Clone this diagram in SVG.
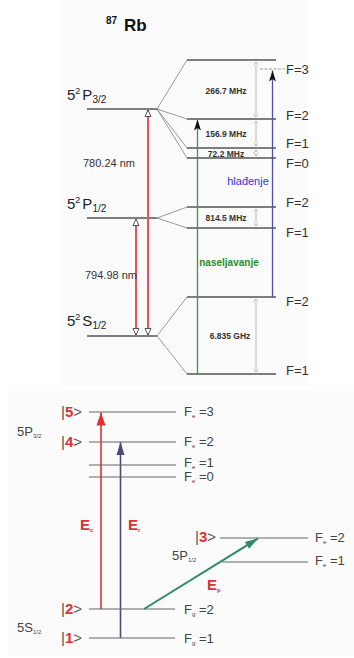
<svg xmlns="http://www.w3.org/2000/svg" width="354" height="658" viewBox="0 0 354 658">
<defs>
<style>
text{font-family:"Liberation Sans",Arial,sans-serif}
.lvl{stroke:#555;stroke-width:1.5;fill:none}
.fan{stroke:#9a9a9a;stroke-width:1;fill:none}
.gap{stroke:#a8a8a8;stroke-width:0.8;fill:none;marker-start:url(#gs);marker-end:url(#ge)}
.small{font-size:8.5px;fill:#333;font-weight:bold;text-anchor:middle}
.flab{font-size:13px;fill:#333}
.big{font-size:15px;fill:#222}
.blvl{stroke:#666;stroke-width:1.2;fill:none}
.blab{font-size:13px;fill:#444}
.ket{font-size:15px;fill:#555}
.num{fill:#e03030;font-weight:bold}
.red{stroke:#e8505a;stroke-width:2;fill:none}
</style>
<marker id="gs" markerUnits="userSpaceOnUse" markerWidth="6" markerHeight="6" refX="3" refY="0.5" orient="auto" viewBox="0 -1 6 6">
<path d="M0.5,4 L3,0.5 L5.5,4 Z" transform="rotate(-90 3 0.5)" fill="#fff" stroke="#999" stroke-width="0.7"/>
</marker>
<marker id="ge" markerUnits="userSpaceOnUse" markerWidth="6" markerHeight="6" refX="3" refY="0.5" orient="auto" viewBox="0 -1 6 6">
<path d="M0.5,4 L3,0.5 L5.5,4 Z" transform="rotate(90 3 0.5)" fill="#fff" stroke="#999" stroke-width="0.7"/>
</marker>
<marker id="hollow" markerUnits="userSpaceOnUse" markerWidth="10" markerHeight="10" refX="8" refY="4" orient="auto-start-reverse" viewBox="0 0 10 8">
<path d="M1.5,1 L8,4 L1.5,7 Z" fill="#fff" stroke="#444" stroke-width="0.9"/>
</marker>
<marker id="blk" markerUnits="userSpaceOnUse" markerWidth="12" markerHeight="8" refX="11" refY="4" orient="auto" viewBox="0 0 12 8">
<path d="M0,0.5 L11,4 L0,7.5 L2.5,4 Z" fill="#111"/>
</marker>
<marker id="hr" markerUnits="userSpaceOnUse" markerWidth="14" markerHeight="10" refX="13" refY="5" orient="auto" viewBox="0 0 14 10">
<path d="M0,0.5 L13,5 L0,9.5 Z" fill="#e03030"/>
</marker>
<marker id="hb" markerUnits="userSpaceOnUse" markerWidth="14" markerHeight="10" refX="13" refY="5" orient="auto" viewBox="0 0 14 10">
<path d="M0,1 L13,5 L0,9 Z" fill="#4a4a7a"/>
</marker>
<marker id="hg" markerUnits="userSpaceOnUse" markerWidth="14" markerHeight="10" refX="13" refY="5" orient="auto" viewBox="0 0 14 10">
<path d="M0,1 L13,5 L0,9 Z" fill="#2e8b6e"/>
</marker>
</defs>

<rect x="0" y="0" width="354" height="658" fill="#fff"/>
<rect x="63" y="0" width="245" height="387" fill="#fbfbfb"/>
<rect x="8" y="391" width="346" height="265" fill="#fbfbfb"/>

<g id="title">
<text x="106" y="24" font-size="10" font-weight="bold" fill="#111">87</text>
<text x="124" y="31" font-size="17" font-weight="bold" fill="#111">Rb</text>
</g>

<g id="P32">
<line class="lvl" x1="87" y1="109" x2="157" y2="109"/>
<text x="67" y="100" class="big">5<tspan font-size="9" dy="-6">2</tspan><tspan dx="2" dy="6">P</tspan><tspan font-size="10" dy="3">3/2</tspan></text>
</g>
<g id="P12">
<line class="lvl" x1="87" y1="218" x2="157" y2="218"/>
<text x="67" y="209" class="big">5<tspan font-size="9" dy="-6">2</tspan><tspan dx="2" dy="6">P</tspan><tspan font-size="10" dy="3">1/2</tspan></text>
</g>
<g id="S12">
<line class="lvl" x1="87" y1="336" x2="157" y2="336"/>
<text x="67" y="326" class="big">5<tspan font-size="9" dy="-6">2</tspan><tspan dx="2" dy="6">S</tspan><tspan font-size="10" dy="3">1/2</tspan></text>
</g>

<g id="fans">
<path class="fan" d="M157,109 L187,60 M157,109 L187,119 M157,109 L187,148 M157,109 L187,158"/>
<path class="fan" d="M157,218 L187,207 M157,218 L187,228"/>
<path class="fan" d="M157,336 L187,297 M157,336 L187,374"/>
</g>

<g id="hfP32">
<line class="lvl" x1="187" y1="60" x2="276" y2="60"/>
<line class="lvl" x1="187" y1="119" x2="276" y2="119"/>
<line class="lvl" x1="187" y1="148" x2="276" y2="148"/>
<line class="lvl" x1="187" y1="158" x2="276" y2="158"/>
<line x1="260" y1="69" x2="285" y2="69" stroke="#888" stroke-width="0.8" stroke-dasharray="3,1.5"/>
<text class="flab" x="286" y="74">F=3</text>
<text class="flab" x="286" y="120">F=2</text>
<text class="flab" x="286" y="148">F=1</text>
<text class="flab" x="286" y="168">F=0</text>
</g>
<g id="hfP12">
<line class="lvl" x1="187" y1="207" x2="276" y2="207"/>
<line class="lvl" x1="187" y1="228" x2="276" y2="228"/>
<text class="flab" x="286" y="207">F=2</text>
<text class="flab" x="286" y="237">F=1</text>
</g>
<g id="hfS12">
<line class="lvl" x1="187" y1="297" x2="276" y2="297"/>
<line class="lvl" x1="187" y1="374" x2="276" y2="374"/>
<text class="flab" x="286" y="306">F=2</text>
<text class="flab" x="286" y="375">F=1</text>
</g>

<g id="connectors">
<line class="gap" x1="256" y1="62" x2="256" y2="117"/>
<line class="gap" x1="256" y1="121" x2="256" y2="146"/>
<line class="gap" x1="256" y1="150" x2="256" y2="156"/>
<line class="gap" x1="256" y1="209" x2="256" y2="226"/>
<line class="gap" x1="256" y1="299" x2="256" y2="372"/>
<line class="red" x1="148" y1="335" x2="148" y2="110" marker-start="url(#hollow)" marker-end="url(#hollow)"/>
<line class="red" x1="136" y1="335" x2="136" y2="219" marker-start="url(#hollow)" marker-end="url(#hollow)"/>
<line x1="197.5" y1="374" x2="197.5" y2="119.5" stroke="#3a9a3a" stroke-width="1.3" marker-end="url(#blk)"/>
<line x1="272.5" y1="297" x2="272.5" y2="70.5" stroke="#5050a0" stroke-width="1.3" marker-end="url(#blk)"/>
<line x1="101" y1="609" x2="101" y2="412.5" stroke="#e03030" stroke-width="1.6" marker-end="url(#hr)"/>
<line x1="120.5" y1="638" x2="120.5" y2="442" stroke="#4a4a7a" stroke-width="1.6" marker-end="url(#hb)"/>
<line x1="144" y1="609" x2="258" y2="538.5" stroke="#2e8b6e" stroke-width="2" marker-end="url(#hg)"/>
</g>

<g id="toplabels">
<text class="small" x="226" y="94">266.7 MHz</text>
<text class="small" x="226" y="137">156.9 MHz</text>
<text class="small" x="226" y="156.5">72.2 MHz</text>
<text class="small" x="226" y="220.5">814.5 MHz</text>
<text class="small" x="230" y="339">6.835 GHz</text>
<text x="83" y="167" font-size="11" fill="#333">780.24 nm</text>
<text x="85" y="279" font-size="11" fill="#333">794.98 nm</text>
<text x="248" y="185" font-size="11" fill="#3030e0" text-anchor="middle">hlađenje</text>
<text x="229" y="266" font-size="10" font-weight="bold" fill="#2a8a2a" text-anchor="middle">naseljavanje</text>
</g>

<g id="k5">
<line class="blvl" x1="89" y1="412" x2="176" y2="412"/>
<text class="ket" x="61" y="417">|<tspan class="num">5</tspan>&gt;</text>
<text class="blab" x="184" y="416">F<tspan font-size="6" dy="2">e</tspan><tspan dy="-2"> =3</tspan></text>
</g>
<g id="k4">
<line class="blvl" x1="89" y1="442" x2="176" y2="442"/>
<text class="ket" x="61" y="447">|<tspan class="num">4</tspan>&gt;</text>
<text class="blab" x="184" y="446">F<tspan font-size="6" dy="2">e</tspan><tspan dy="-2"> =2</tspan></text>
</g>
<g id="fe1">
<line class="blvl" x1="89" y1="465" x2="176" y2="465"/>
<text class="blab" x="184" y="467">F<tspan font-size="6" dy="2">e</tspan><tspan dy="-2"> =1</tspan></text>
</g>
<g id="fe0">
<line class="blvl" x1="89" y1="477" x2="176" y2="477"/>
<text class="blab" x="184" y="481">F<tspan font-size="6" dy="2">e</tspan><tspan dy="-2"> =0</tspan></text>
</g>
<text x="17" y="436" font-size="13" fill="#444">5P<tspan font-size="6" dy="2">3/2</tspan></text>

<g id="k3">
<line class="blvl" x1="220" y1="538" x2="308" y2="538"/>
<text class="ket" x="195" y="542">|<tspan class="num">3</tspan>&gt;</text>
<text class="blab" x="315" y="542">F<tspan font-size="6" dy="2">e</tspan><tspan dy="-2"> =2</tspan></text>
</g>
<g id="fe1b">
<line class="blvl" x1="222" y1="562" x2="308" y2="562"/>
<text class="blab" x="315" y="565">F<tspan font-size="6" dy="2">e</tspan><tspan dy="-2"> =1</tspan></text>
</g>
<text x="172" y="560" font-size="13" fill="#444">5P<tspan font-size="6" dy="2">1/2</tspan></text>

<g id="k2">
<line class="blvl" x1="89" y1="609" x2="175" y2="609"/>
<text class="ket" x="61" y="614">|<tspan class="num">2</tspan>&gt;</text>
<text class="blab" x="184" y="614">F<tspan font-size="6" dy="2">g</tspan><tspan dy="-2"> =2</tspan></text>
</g>
<g id="k1">
<line class="blvl" x1="89" y1="638" x2="175" y2="638"/>
<text class="ket" x="61" y="643">|<tspan class="num">1</tspan>&gt;</text>
<text class="blab" x="184" y="643">F<tspan font-size="6" dy="2">g</tspan><tspan dy="-2"> =1</tspan></text>
</g>
<text x="17" y="632" font-size="13" fill="#444">5S<tspan font-size="6" dy="2">1/2</tspan></text>

<g id="fieldlabels">
<text x="80" y="530" font-size="15" font-weight="bold" fill="#e03030">E<tspan font-size="6" dy="2">c</tspan></text>
<text x="128" y="530" font-size="15" font-weight="bold" fill="#e03030">E<tspan font-size="6" dy="2">r</tspan></text>
<text x="207" y="590" font-size="15" font-weight="bold" fill="#e03030">E<tspan font-size="6" dy="2">p</tspan></text>
</g>
</svg>
